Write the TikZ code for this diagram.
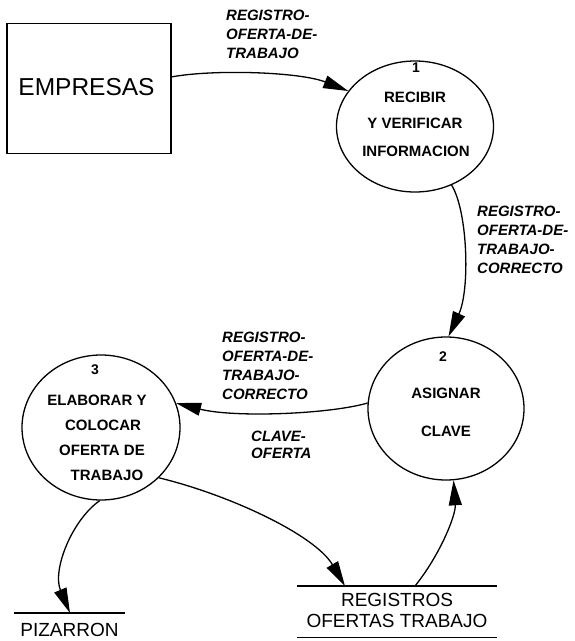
\documentclass[tikz,border=0pt]{standalone}
\usepackage{fontspec}
\setmainfont{Liberation Sans}
\usetikzlibrary{shapes.geometric,arrows.meta}
\begin{document}
\begin{tikzpicture}[x=1pt,y=-1pt,
  lw/.style={line width=1.3pt},
  process/.style={draw,lw,ellipse,inner sep=0pt},
  ptext/.style={font=\fontsize{15}{18}\selectfont\bfseries,inner sep=0pt},
  pnum/.style={font=\fontsize{14}{16}\selectfont\bfseries,inner sep=0pt},
  flowlabel/.style={font=\fontsize{15}{19}\selectfont\bfseries\itshape,align=left,anchor=north west,inner sep=0pt},
  storetext/.style={font=\fontsize{19}{21}\selectfont,align=center,anchor=north,inner sep=0pt},
  flow/.style={lw,-{Triangle[length=25pt,width=13pt]}}
]
\useasboundingbox (0,0) rectangle (574,641);

% external entity
\node[draw,lw,minimum width=164pt,minimum height=130pt,inner sep=0pt] (emp) at (89,88.5) {};
\node[inner sep=0pt,font=\fontsize{24.5}{26}\selectfont] (emptext) at (86.5,87.5) {EMPRESAS};

% processes
\node[process,minimum width=157pt,minimum height=131pt] (c1) at (415,126.5) {};
\node[pnum] (n1) at (416,68) {1};
\node[ptext] (t1a) at (415,97) {RECIBIR};
\node[ptext] (t1b) at (415,123.5) {Y VERIFICAR};
\node[ptext] (t1c) at (416,151) {INFORMACION};

\node[process,minimum width=156pt,minimum height=143pt] (c2) at (446,408.5) {};
\node[pnum] (n2) at (443,357) {2};
\node[ptext] (t2a) at (446,393.5) {ASIGNAR};
\node[ptext] (t2b) at (446,431) {CLAVE};

\node[process,minimum width=158pt,minimum height=145pt] (c3) at (101,427.5) {};
\node[pnum] (n3) at (95,370) {3};
\node[ptext] (t3a) at (97,400) {ELABORAR Y};
\node[ptext] (t3b) at (103,425) {COLOCAR};
\node[ptext] (t3c) at (102,450) {OFERTA DE};
\node[ptext] (t3d) at (107,475) {TRABAJO};

% data stores
\draw[lw] (14,613) -- (125,613);
\coordinate (pz) at (70,613);
\node[storetext] (pizarron) at (69.5,623) {PIZARRON};

\draw[lw] (297,586) -- (497,586);
\draw[lw] (297,637.5) -- (497,637.5);
\coordinate (rin) at (345,586);
\coordinate (rout) at (415,586);
\node[storetext] (registros) at (397,593) {REGISTROS\\OFERTAS TRABAJO};

% data flows
\draw[flow] (emp.8) .. controls (215,69) and (300,72) .. (c1.152.5);
\draw[flow] (c1.302.8) .. controls (468,212) and (470,290) .. (c2.88.4);
\draw[flow] (c2.176) .. controls (330,414) and (235,418) .. (c3.18.3);
\draw[flow] (c3.269) .. controls (72,520) and (52,570) .. (pz);
\draw[flow] (c3.319.4) .. controls (230,495) and (315,535) .. (rin);
\draw[flow] (rout) .. controls (440,555) and (456,515) .. (c2.276.4);

% flow labels
\node[flowlabel] (l1) at (226,10) {REGISTRO-\\OFERTA-DE-\\TRABAJO};
\node[flowlabel] (l2) at (477,206) {REGISTRO-\\OFERTA-DE-\\TRABAJO-\\CORRECTO};
\node[flowlabel] (l3) at (222,332) {REGISTRO-\\OFERTA-DE-\\TRABAJO-\\CORRECTO};
\node[flowlabel,font=\fontsize{15}{17}\selectfont\bfseries\itshape] (l4) at (251,431) {CLAVE-\\OFERTA};
\end{tikzpicture}
\end{document}
